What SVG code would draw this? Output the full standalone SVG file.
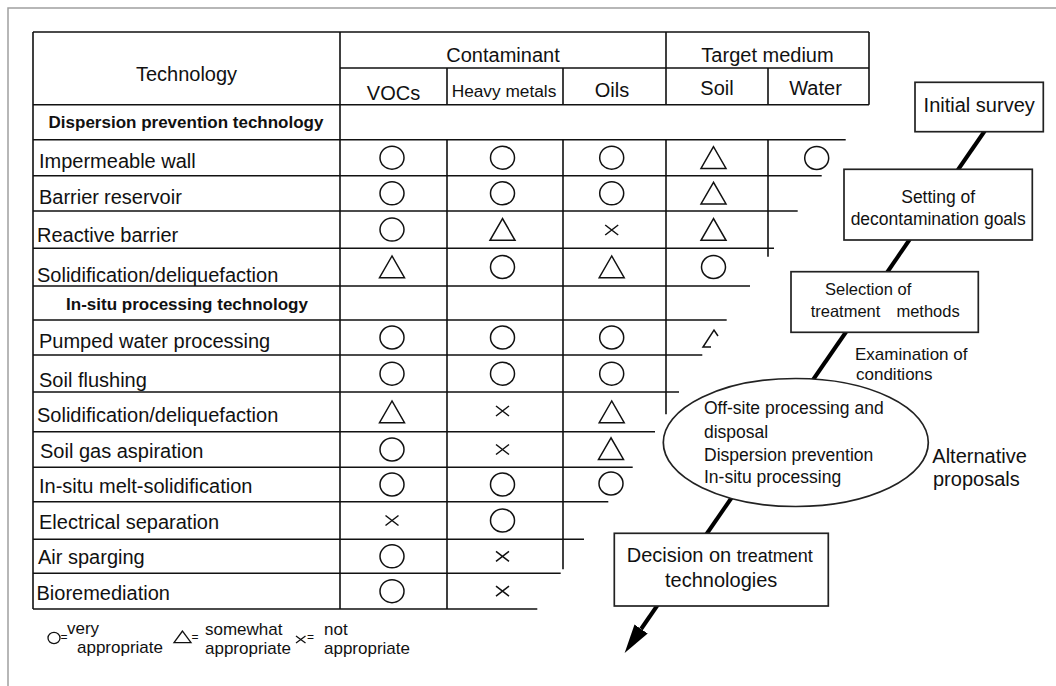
<svg xmlns="http://www.w3.org/2000/svg" width="1056" height="686" viewBox="0 0 1056 686">
<style>
  text { font-family: "Liberation Sans", Arial, Helvetica, sans-serif; fill: #111; }
  .row { font-size: 20px; }
  .hdr { font-size: 20px; text-anchor: middle; }
  .bold { font-size: 17px; font-weight: bold; text-anchor: middle; }
  .grid { stroke: #111; stroke-width: 1.6; fill: none; }
  .sym { stroke: #111; stroke-width: 1.5; fill: none; }
  .box { fill: #fff; stroke: #222; stroke-width: 1.7; }
  .flow { stroke: #000; stroke-width: 4; fill: none; }
  .frame { stroke: #a0a0a0; stroke-width: 1.5; fill: none; }
  .f17 { font-size: 17.5px; }
  .f20 { font-size: 20px; }
  .leg { font-size: 17px; }
  .eq { font-size: 12px; }
</style>
<defs>
  <ellipse id="o" cx="0" cy="0" rx="12" ry="11.5" class="sym"/>
  <path id="tri" d="M0,-11 L-12.5,10.7 L12.5,10.7 Z" class="sym"/>
  <path id="x" d="M-6.5,-5 L6.5,5 M-6.5,5 L6.5,-5" class="sym"/>
  <marker id="ah" markerUnits="userSpaceOnUse" markerWidth="30" markerHeight="16" viewBox="0 0 30 16" refX="0" refY="8" orient="auto">
    <path d="M0,0 L29,8 L0,16 Z" fill="#000"/>
  </marker>
</defs>

<g id="frame">
  <path class="frame" d="M8,686 V8 H1056"/>
</g>

<g id="table">
  <path class="grid" d="M33,32 H869 M340,68 H869 M33,104.7 H869 M33,139.7 H845.7 M33,175.7 H821.7 M33,211 H797.7 M33,248.3 H774 M33,286 H750 M33,320 H726.7 M33,355 H702.3 M33,392 H679 M33,431.7 H655 M33,467.3 H632.7 M33,501.7 H608.3 M33,539.3 H584 M33,573.3 H560.7 M33,609 H537.3"/>
  <path class="grid" d="M33,32 V609 M340,32 V609 M447,68 V104.7 M447,139.7 V609 M563,68 V104.7 M563,139.7 V569.3 M666,32 V104.7 M666,139.7 V414.3 M768,68 V104.7 M768,139.7 V256.7 M869,32 V104.7"/>

  <text class="hdr" x="186.5" y="81">Technology</text>
  <text class="hdr" x="503" y="62.3">Contaminant</text>
  <text class="hdr" x="767.5" y="62">Target medium</text>
  <text class="hdr" x="393.5" y="100">VOCs</text>
  <text class="hdr" x="504" y="96.7" style="font-size:17.3px">Heavy metals</text>
  <text class="hdr" x="612" y="96.7">Oils</text>
  <text class="hdr" x="717" y="95">Soil</text>
  <text class="hdr" x="815.5" y="95">Water</text>

  <text class="bold" x="186" y="128.3">Dispersion prevention technology</text>
  <text class="row" x="39" y="168.3">Impermeable wall</text>
  <text class="row" x="39" y="204">Barrier<tspan dx="5">reservoir</tspan></text>
  <text class="row" x="37" y="241.7">Reactive barrier</text>
  <text class="row" x="37" y="282.3">Solidification/deliquefaction</text>
  <text class="bold" x="187" y="310">In-situ processing technology</text>
  <text class="row" x="39" y="348.3">Pumped water processing</text>
  <text class="row" x="39" y="386.7">Soil flushing</text>
  <text class="row" x="37" y="421.7">Solidification/deliquefaction</text>
  <text class="row" x="40" y="458">Soil gas aspiration</text>
  <text class="row" x="39" y="493">In-situ melt-solidification</text>
  <text class="row" x="39" y="529">Electrical separation</text>
  <text class="row" x="38" y="564">Air sparging</text>
  <text class="row" x="36.5" y="600">Bioremediation</text>

  <use href="#o" x="392" y="157.7"/><use href="#o" x="502.5" y="157.7"/><use href="#o" x="611.7" y="157.7"/><use href="#tri" x="713.5" y="157.7"/><use href="#o" x="816.7" y="158"/>
  <use href="#o" x="392" y="193.3"/><use href="#o" x="502.5" y="193.3"/><use href="#o" x="611.7" y="193.3"/><use href="#tri" x="713.5" y="193.3"/>
  <use href="#o" x="392" y="229.6"/><use href="#tri" x="502.5" y="229.6"/><use href="#x" x="611.7" y="230"/><use href="#tri" x="713.5" y="229.6"/>
  <use href="#tri" x="392" y="267"/><use href="#o" x="502.5" y="267"/><use href="#tri" x="611.7" y="267"/><use href="#o" x="713.5" y="267"/>
  <use href="#o" x="392" y="337.5"/><use href="#o" x="502.5" y="337.5"/><use href="#o" x="611.7" y="337.5"/>
  <path class="sym" d="M711,347 L703,347 L714,330 L718,336"/>
  <use href="#o" x="392" y="373.7"/><use href="#o" x="502.5" y="373.7"/><use href="#o" x="611.7" y="373.7"/>
  <use href="#tri" x="392" y="412"/><use href="#x" x="502.5" y="411"/><use href="#tri" x="611.7" y="412"/>
  <use href="#o" x="392" y="449.5"/><use href="#x" x="502.5" y="449.5"/><use href="#tri" x="611" y="448.8"/>
  <use href="#o" x="392" y="484.5"/><use href="#o" x="502.5" y="484.5"/><use href="#o" x="611" y="483.5"/>
  <use href="#x" x="392" y="520.5"/><use href="#o" x="502.5" y="520.5"/>
  <use href="#o" x="392" y="556.3"/><use href="#x" x="502.5" y="556.3"/>
  <use href="#o" x="392" y="591.2"/><use href="#x" x="502.5" y="591.2"/>
</g>

<g id="legend">
  <ellipse cx="54" cy="638" rx="6" ry="5.6" class="sym" style="stroke-width:1.3"/>
  <text class="eq" x="60.5" y="641">=</text>
  <text class="leg" x="67" y="634">very</text>
  <text class="leg" x="77" y="653">appropriate</text>
  <path class="sym" style="stroke-width:1.3" d="M182.5,631 L174,642.7 L191,642.7 Z"/>
  <text class="eq" x="191.5" y="641">=</text>
  <text class="leg" x="205" y="635">somewhat</text>
  <text class="leg" x="205" y="654">appropriate</text>
  <path class="sym" style="stroke-width:1.3" d="M296,636 L305.5,643 M296,643 L305.5,636"/>
  <text class="eq" x="307" y="641">=</text>
  <text class="leg" x="324" y="635">not</text>
  <text class="leg" x="324" y="654">appropriate</text>
</g>

<g id="connectors">
  <line class="flow" x1="984.7" y1="131" x2="957.8" y2="170"/>
  <line class="flow" x1="910" y1="239" x2="886.7" y2="273"/>
  <line class="flow" x1="846.7" y1="331" x2="809.4" y2="385"/>
  <line class="flow" x1="733.5" y1="495" x2="705.2" y2="536"/>
  <line class="flow" x1="658.3" y1="604" x2="641.1" y2="629" marker-end="url(#ah)"/>
</g>

<g id="n-initial">
  <rect class="box" x="915" y="82.3" width="128.3" height="49.4"/>
  <text class="f20" x="979.2" y="111.7" text-anchor="middle">Initial survey</text>
</g>
<g id="n-setting">
  <rect class="box" x="844" y="169.3" width="188.3" height="70.7"/>
  <text class="f17" x="938.2" y="202.5" text-anchor="middle">Setting of</text>
  <text class="f17" x="938.2" y="225" text-anchor="middle">decontamination goals</text>
</g>
<g id="n-selection">
  <rect class="box" x="791" y="271.7" width="187.3" height="60.6"/>
  <text x="825" y="294.5" style="font-size:16.5px">Selection of</text>
  <text x="810.7" y="317.3" style="font-size:16.5px">treatment<tspan dx="16">methods</tspan></text>
</g>
<g id="l-examination">
  <text x="855" y="360" style="font-size:17px">Examination of</text>
  <text x="856" y="380" style="font-size:17px">conditions</text>
</g>
<g id="n-alternatives">
  <ellipse class="box" cx="795.8" cy="442.5" rx="132.5" ry="64"/>
  <text class="f17" x="704" y="414.3">Off-site processing and</text>
  <text class="f17" x="704" y="437.7">disposal</text>
  <text class="f17" x="704" y="461">Dispersion prevention</text>
  <text class="f17" x="704" y="483.3">In-situ processing</text>
</g>
<g id="l-alternative">
  <text class="f20" x="932.3" y="463">Alternative</text>
  <text class="f20" x="933" y="486">proposals</text>
</g>
<g id="n-decision">
  <rect class="box" x="614.3" y="533.3" width="214" height="72.7"/>
  <text class="f20" x="626.7" y="561.7">Decision on <tspan style="font-size:18px">treatment</tspan></text>
  <text class="f20" x="721.2" y="587.3" text-anchor="middle">technologies</text>
</g>
</svg>
